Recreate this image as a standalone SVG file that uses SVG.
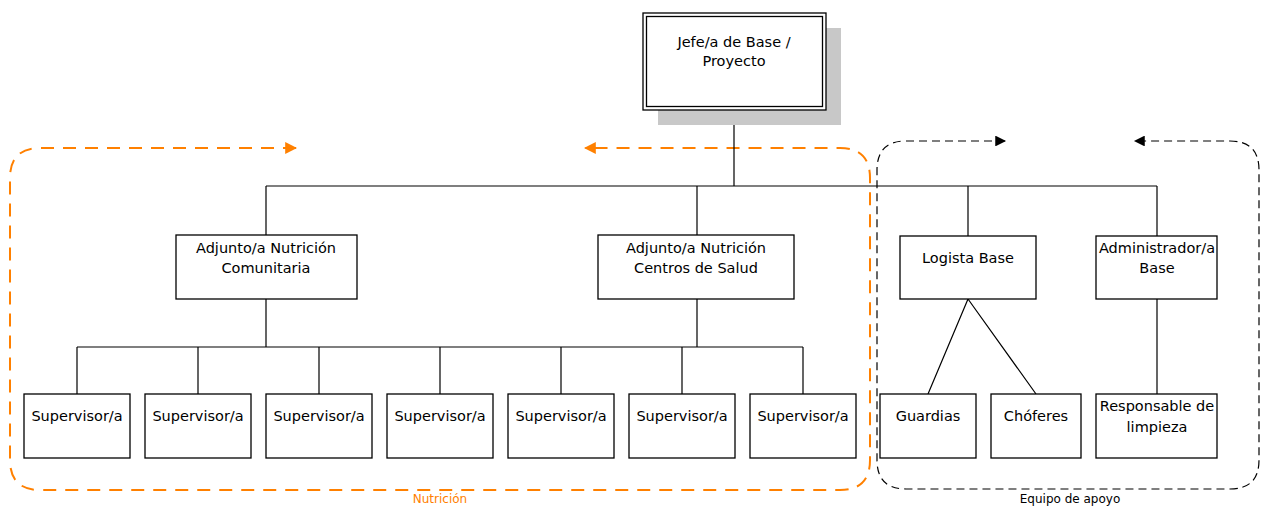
<svg xmlns="http://www.w3.org/2000/svg" width="1261" height="506" viewBox="0 0 1261 506">
<style>
.box{fill:#fff;stroke:#000;stroke-width:1.3}
.t{font-family:"DejaVu Sans",Verdana,sans-serif;font-size:14.5px;fill:#000;text-anchor:middle}
.c{fill:none;stroke:#000;stroke-width:1.2}
.lbl{font-family:"DejaVu Sans",Verdana,sans-serif;font-size:12px;text-anchor:middle}
</style>
<defs>
<marker id="ao" viewBox="0 0 10 10" refX="9" refY="5" markerWidth="6" markerHeight="6" orient="auto-start-reverse" markerUnits="strokeWidth"><path d="M0,0 L10,5 L0,10 Z" fill="#ff8000"/></marker>
<marker id="ab" viewBox="0 0 10 10" refX="9" refY="5" markerWidth="10" markerHeight="9" orient="auto-start-reverse" markerUnits="strokeWidth"><path d="M0,0 L10,5 L0,10 Z" fill="#000"/></marker>
</defs>
<rect width="1261" height="506" fill="#fff"/>
<g id="groups">
<path d="M296,148 L40,148 Q10,148 10,178 L10,460 Q10,490 40,490 L840,490 Q870,490 870,460 L870,178 Q870,148 840,148 L585,148" fill="none" stroke="#ff8000" stroke-width="2" stroke-dasharray="13,9" marker-start="url(#ao)" marker-end="url(#ao)"/>
<path d="M1005,141 L906,141 Q877,141 877,170 L877,460 Q877,489 906,489 L1230,489 Q1259,489 1259,460 L1259,170 Q1259,141 1230,141 L1135,141" fill="none" stroke="#000" stroke-width="1.2" stroke-dasharray="8,5" marker-start="url(#ab)" marker-end="url(#ab)"/>
<text class="lbl" x="440" y="503" fill="#ff8000">Nutrición</text>
<text class="lbl" x="1070" y="503" fill="#000">Equipo de apoyo</text>
</g>
<g id="connectors">
<path class="c" d="M734,110 V186 M266,186 H1157 M266,186 V235 M697,186 V235 M968,186 V236 M1157,186 V236"/>
<path class="c" d="M266,299 V347 M697,299 V347 M77,347 H803 M77,347 V394 M198,347 V394 M319,347 V394 M440,347 V394 M561,347 V394 M682,347 V394 M803,347 V394"/>
<path class="c" d="M968,299 L928,394 M968,299 L1036,394 M1157,299 V394"/>
</g>
<g id="jefe">
<rect x="658" y="28" width="183" height="97" fill="#c8c8c8"/>
<rect x="643" y="13" width="183" height="97" fill="#fff" stroke="#000" stroke-width="1.3"/>
<rect x="646.5" y="16.5" width="176" height="90" fill="none" stroke="#000" stroke-width="1.3"/>
<text class="t" x="734" y="47">Jefe/a de Base /</text>
<text class="t" x="734" y="66">Proyecto</text>
</g>
<g id="adj-com">
<rect class="box" x="176" y="235" width="181" height="64"/>
<text class="t" x="266" y="253">Adjunto/a Nutrición</text>
<text class="t" x="266" y="273">Comunitaria</text>
</g>
<g id="adj-cs">
<rect class="box" x="598" y="235" width="196" height="64"/>
<text class="t" x="696" y="253">Adjunto/a Nutrición</text>
<text class="t" x="696" y="273">Centros de Salud</text>
</g>
<g id="logista">
<rect class="box" x="900" y="236" width="136" height="63"/>
<text class="t" x="968" y="263">Logista Base</text>
</g>
<g id="admin">
<rect class="box" x="1096" y="236" width="121" height="63"/>
<text class="t" x="1157" y="253">Administrador/a</text>
<text class="t" x="1157" y="273">Base</text>
</g>
<g id="sup1"><rect class="box" x="24" y="394" width="106" height="64"/><text class="t" x="77" y="421">Supervisor/a</text></g>
<g id="sup2"><rect class="box" x="145" y="394" width="106" height="64"/><text class="t" x="198" y="421">Supervisor/a</text></g>
<g id="sup3"><rect class="box" x="266" y="394" width="106" height="64"/><text class="t" x="319" y="421">Supervisor/a</text></g>
<g id="sup4"><rect class="box" x="387" y="394" width="106" height="64"/><text class="t" x="440" y="421">Supervisor/a</text></g>
<g id="sup5"><rect class="box" x="508" y="394" width="106" height="64"/><text class="t" x="561" y="421">Supervisor/a</text></g>
<g id="sup6"><rect class="box" x="629" y="394" width="106" height="64"/><text class="t" x="682" y="421">Supervisor/a</text></g>
<g id="sup7"><rect class="box" x="750" y="394" width="106" height="64"/><text class="t" x="803" y="421">Supervisor/a</text></g>
<g id="guardias"><rect class="box" x="880" y="394" width="96" height="64"/><text class="t" x="928" y="421">Guardias</text></g>
<g id="choferes"><rect class="box" x="991" y="394" width="90" height="64"/><text class="t" x="1036" y="421">Chóferes</text></g>
<g id="limpieza"><rect class="box" x="1096" y="394" width="121" height="64"/><text class="t" x="1157" y="411">Responsable de</text><text class="t" x="1157" y="432">limpieza</text></g>
</svg>
